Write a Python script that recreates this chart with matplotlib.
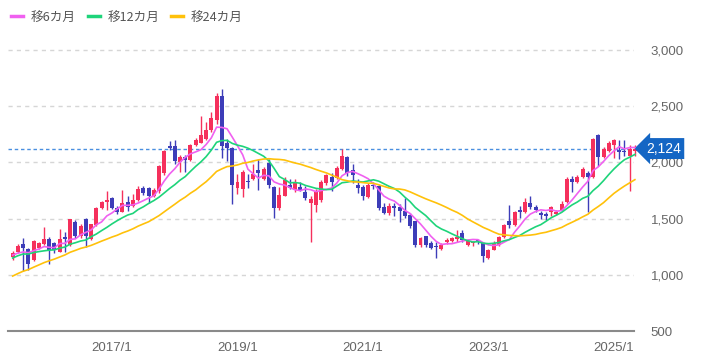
import matplotlib
matplotlib.use("Agg")
import matplotlib.pyplot as plt
from matplotlib.lines import Line2D
import numpy as np
import pandas as pd

# ---- data: monthly candles 2015/6 .. 2025/5 ----
start_month = "2015-06"
opens = [1160, 1204, 1272, 1233, 1130, 1240, 1278, 1323, 1284, 1204,
         1338, 1263, 1473, 1347, 1497, 1317, 1443, 1593, 1652, 1682,
         1593, 1563, 1645, 1610, 1670, 1773, 1773, 1700, 1743, 1906,
         2150, 2144, 2006, 2050, 2020, 2160, 2175, 2210, 2290, 2380,
         2590, 2170, 2130, 1770, 1766, 1836, 1856, 1930, 1856, 1991,
         1784, 1592, 1706, 1800, 1755, 1784, 1740, 1636, 1621, 1666,
         1813, 1873, 1864, 1940, 2050, 1930, 1800, 1784, 1695, 1800,
         1788, 1600, 1550, 1610, 1600, 1565, 1535, 1476, 1269, 1343,
         1283, 1260, 1233, 1290, 1300, 1320, 1372, 1269, 1280, 1305,
         1283, 1150, 1224, 1263, 1337, 1480, 1441, 1575, 1559, 1640,
         1600, 1550, 1544, 1559, 1540, 1574, 1647, 1853, 1830, 1868,
         1910, 1868, 2241, 2053, 2103, 2160, 2110, 2100, 2060, 2100]
highs = [1215, 1272, 1330, 1240, 1308, 1290, 1428, 1338, 1290, 1407,
         1383, 1500, 1490, 1450, 1505, 1455, 1605, 1655, 1748, 1690,
         1610, 1757, 1700, 1720, 1790, 1790, 1780, 1770, 1980, 2110,
         2188, 2200, 2070, 2070, 2165, 2215, 2410, 2360, 2450, 2620,
         2650, 2210, 2140, 1900, 1930, 1900, 1990, 2035, 1962, 2030,
         1790, 1780, 1870, 1850, 1850, 1830, 1790, 1700, 1760, 1840,
         1900, 1910, 1970, 2124, 2060, 1990, 1850, 1800, 1820, 1830,
         1800, 1640, 1640, 1640, 1630, 1684, 1550, 1480, 1340, 1350,
         1300, 1290, 1280, 1330, 1340, 1400, 1400, 1320, 1300, 1310,
         1290, 1230, 1300, 1350, 1450, 1620, 1570, 1610, 1680, 1700,
         1620, 1570, 1560, 1610, 1580, 1660, 1870, 1880, 1890, 1960,
         1925, 2220, 2250, 2140, 2190, 2210, 2200, 2200, 2160, 2160]
lows = [1130, 1190, 1030, 1040, 1120, 1230, 1263, 1100, 1190, 1200,
        1204, 1260, 1330, 1330, 1248, 1310, 1438, 1585, 1580, 1585,
        1545, 1555, 1570, 1600, 1660, 1710, 1640, 1690, 1730, 1890,
        2110, 1990, 1916, 1916, 2010, 2150, 2170, 2200, 2270, 2340,
        2040, 2010, 1630, 1720, 1690, 1770, 1840, 1754, 1840, 1770,
        1503, 1580, 1700, 1760, 1740, 1750, 1670, 1296, 1560, 1650,
        1800, 1750, 1850, 1930, 1880, 1820, 1730, 1670, 1680, 1760,
        1580, 1540, 1530, 1520, 1470, 1510, 1420, 1250, 1250, 1250,
        1230, 1150, 1225, 1270, 1290, 1290, 1290, 1260, 1260, 1270,
        1114, 1140, 1220, 1255, 1330, 1420, 1435, 1510, 1550, 1590,
        1560, 1500, 1490, 1520, 1530, 1570, 1640, 1740, 1820, 1860,
        1560, 1860, 1970, 2040, 2090, 2040, 2030, 2060, 1747, 2060]
closes = [1195, 1254, 1242, 1100, 1305, 1284, 1323, 1218, 1218, 1323,
          1317, 1497, 1347, 1437, 1347, 1449, 1598, 1646, 1667, 1598,
          1563, 1638, 1600, 1670, 1764, 1728, 1700, 1758, 1966, 2100,
          2130, 2010, 2045, 2020, 2158, 2203, 2245, 2290, 2400, 2590,
          2145, 2130, 1800, 1826, 1916, 1824, 1900, 1902, 1946, 1800,
          1592, 1710, 1843, 1770, 1828, 1754, 1680, 1672, 1740, 1828,
          1888, 1828, 1947, 2060, 1910, 1890, 1770, 1700, 1800, 1790,
          1595, 1550, 1610, 1595, 1570, 1521, 1432, 1269, 1328, 1269,
          1239, 1250, 1263, 1310, 1330, 1340, 1313, 1300, 1295, 1300,
          1165, 1224, 1280, 1337, 1441, 1441, 1559, 1555, 1647, 1600,
          1580, 1530, 1524, 1603, 1560, 1632, 1853, 1830, 1868, 1941,
          1870, 2206, 2053, 2117, 2176, 2200, 2090, 2090, 2124, 2124]
# closes before the first visible month (needed for the moving averages)
prior_closes = [720, 740, 760, 790, 800, 830, 820, 850, 880, 880, 920, 950,
                1010, 1060, 1100, 1150, 1180, 1240,
                1150, 1180, 1140, 1200, 1190]
last_price = 2124
ma_windows = [6, 12, 24]
ma_labels = ["移6カ月", "移12カ月", "移24カ月"]
y_ticks = [500, 1000, 1500, 2000, 2500, 3000]
x_tick_labels = ["2017/1", "2019/1", "2021/1", "2023/1", "2025/1"]

# ---- styles ----
RED = "#f5305c"
BLUE = "#3d3db8"
MA_COLORS = ["#f060f0", "#1ed47a", "#ffc10a"]
TXT = "#666666"

n = len(closes)
months = pd.period_range(start_month, periods=n, freq="M")
xi = np.arange(n)
all_closes = pd.Series(prior_closes + closes, dtype=float)

fig = plt.figure(figsize=(7.14, 3.57), dpi=100)
ax = fig.add_axes([8 / 714, 26 / 357, 626 / 714, (331 - 38.9) / 357])
ax.set_xlim(-0.89, 118.83)
ax.set_ylim(500, 3100)

# grid
for yv in y_ticks[1:]:
    ax.axhline(yv, color="#d6d6d6", lw=1.0, ls=(0, (3, 3)), zorder=0)

# candles
o = np.array(opens, float); c = np.array(closes, float)
h = np.array(highs, float); l = np.array(lows, float)
up = c >= o
cols = np.where(up, RED, BLUE)
ax.vlines(xi, l, h, colors=cols, lw=1.0, zorder=2, clip_on=False)
body_lo = np.minimum(o, c)
body_h = np.maximum(np.abs(c - o), 8)
ax.bar(xi, body_h, bottom=body_lo, width=0.76, color=cols, linewidth=0, zorder=3,
       clip_on=False)

# moving averages
for w, col, lab in zip(ma_windows, MA_COLORS, ma_labels):
    ma = all_closes.rolling(w).mean().to_numpy()[len(prior_closes):]
    ax.plot(xi, ma, color=col, lw=1.2, zorder=4, label=lab, clip_on=False)

# current price line and tag
ax.axhline(last_price, color="#4a8fe0", lw=1.0, ls=(0, (2.5, 2)), zorder=1)
ax.text(1.019, (last_price - 500) / 2600, f"{last_price:,}", transform=ax.transAxes,
        ha="left", va="center", color="white", fontsize=10, family="Liberation Sans",
        bbox=dict(boxstyle="larrow,pad=0.25", fc="#1466c4", ec="none"), clip_on=False)

# axes styling
for s in ["top", "left", "right"]:
    ax.spines[s].set_visible(False)
ax.spines["bottom"].set_color("#8a8a8a")
ax.spines["bottom"].set_linewidth(1.5)
ax.yaxis.tick_right()
ax.set_yticks(y_ticks)
ax.set_yticklabels([f"{v:,}" for v in y_ticks])
tick_idx = [list(months.strftime("%Y/%-m")).index(t) for t in x_tick_labels]
ax.set_xticks(tick_idx)
ax.set_xticklabels(x_tick_labels)
ax.tick_params(axis="both", length=0, colors=TXT, labelsize=9.5)
ax.tick_params(axis="y", pad=12)
ax.tick_params(axis="x", pad=8)
for t in ax.get_xticklabels() + ax.get_yticklabels():
    t.set_family("Liberation Sans")

# legend
handles = [Line2D([0], [0], color=cc, lw=2.5) for cc in MA_COLORS]
leg = fig.legend(handles, ma_labels, loc="upper left", bbox_to_anchor=(0.003, 0.995),
                 ncol=3, frameon=False, handlelength=0.95, handletextpad=0.6,
                 columnspacing=0.95, borderaxespad=0.3,
                 prop={"family": ["Noto Sans CJK JP", "DejaVu Sans"], "size": 9.1})
for t in leg.get_texts():
    t.set_color("#555555")

fig.savefig("out.png", dpi=100)
